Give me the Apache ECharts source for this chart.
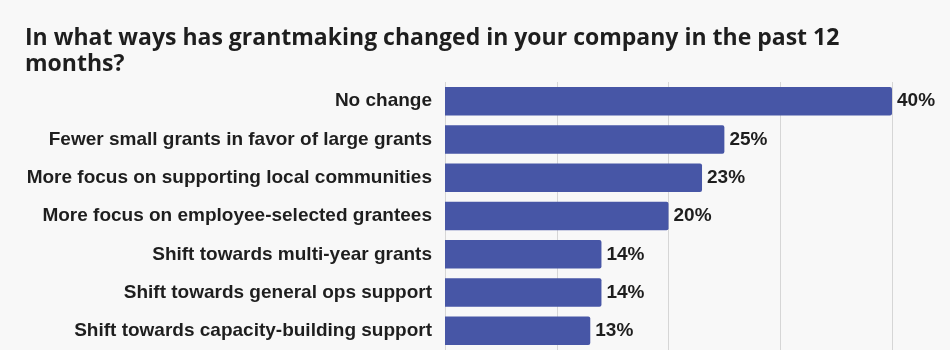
<!DOCTYPE html>
<html>
<head>
<meta charset="utf-8">
<script src="https://cdn.jsdelivr.net/npm/echarts@6/dist/echarts.min.js"></script>
<style>
  html, body { margin: 0; padding: 0; background: #f8f8f8; }
  #chart { width: 950px; height: 350px; }
</style>
</head>
<body>
<div id="chart"></div>
<script>
// Survey answers, top to bottom
const categories = [
  "No change",
  "Fewer small grants in favor of large grants",
  "More focus on supporting local communities",
  "More focus on employee-selected grantees",
  "Shift towards multi-year grants",
  "Shift towards general ops support",
  "Shift towards capacity-building support"
];
// Share of respondents (%)
const shares = [40, 25, 23, 20, 14, 14, 13];

const chart = echarts.init(document.getElementById('chart'));
chart.setOption({
  backgroundColor: '#f8f8f8',
  animation: false,
  title: {
    text: 'In what ways has grantmaking changed in your company in the past 12 months?',
    left: 20,
    top: 20,
    textStyle: {
      fontFamily: 'Open Sans',
      fontWeight: 'bold',
      fontSize: 23,
      color: '#1e1e1e',
      lineHeight: 26,
      width: 880,
      overflow: 'break'
    }
  },
  grid: { left: 445, right: 58, top: 82, bottom: -5, containLabel: false },
  xAxis: {
    type: 'value',
    min: 0,
    max: 40,
    interval: 10,
    axisLabel: { show: false },
    axisLine: { show: false },
    axisTick: { show: false },
    splitLine: { show: true, lineStyle: { color: '#d6d6d6', width: 1 } }
  },
  yAxis: {
    type: 'category',
    inverse: true,
    data: categories,
    axisLine: { show: false },
    axisTick: { show: false },
    axisLabel: {
      margin: 13,
      fontFamily: 'Liberation Sans',
      fontWeight: 'bold',
      fontSize: 19,
      color: '#1e1e1e'
    }
  },
  series: [{
    type: 'bar',
    data: shares,
    barCategoryGap: '25.6%',
    itemStyle: { color: '#4756a6', borderRadius: [0, 2, 2, 0] },
    label: {
      show: true,
      position: 'right',
      distance: 5,
      formatter: '{c}%',
      fontFamily: 'Liberation Sans',
      fontWeight: 'bold',
      fontSize: 19,
      color: '#1e1e1e'
    }
  }]
});
</script>
</body>
</html>
